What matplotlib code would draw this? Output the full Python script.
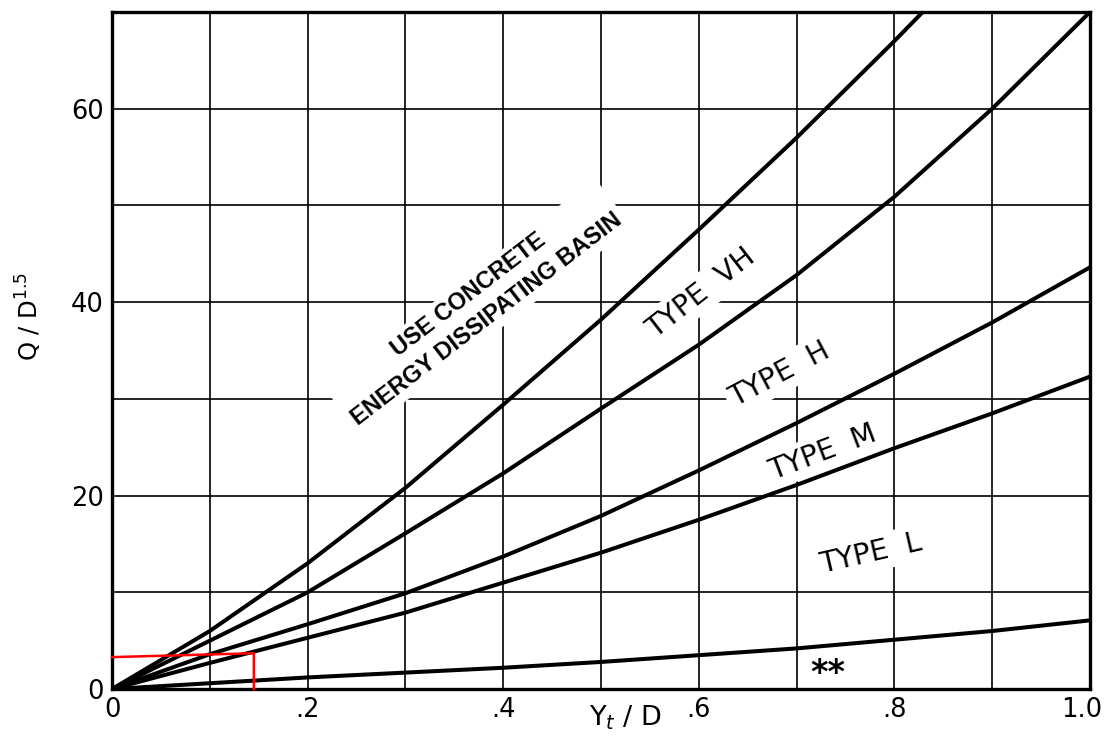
import matplotlib
matplotlib.use("Agg")
import matplotlib.pyplot as plt
import matplotlib.transforms as mtransforms
from matplotlib.ticker import MultipleLocator

# values (x = Yt/D, y = Q/D^1.5)
x_vh_top = [0, 0.1, 0.2, 0.3, 0.4, 0.5, 0.6, 0.7, 0.8, 0.829]
y_vh_top = [0, 6.0, 13.0, 20.8, 29.4, 38.2, 47.5, 57.0, 67.0, 70]

x_std = [0, 0.1, 0.2, 0.3, 0.4, 0.5, 0.6, 0.7, 0.8, 0.9, 1.0]
y_vh_h = [0, 5.0, 10.0, 16.1, 22.3, 29.0, 35.6, 42.8, 50.9, 60.0, 70.0]
y_h_m = [0, 3.6, 6.7, 9.9, 13.7, 17.9, 22.6, 27.5, 32.6, 37.9, 43.6]
y_m_l = [0, 2.7, 5.3, 7.9, 11.0, 14.1, 17.5, 21.1, 24.9, 28.5, 32.3]
y_l_low = [0, 0.6, 1.2, 1.7, 2.2, 2.8, 3.5, 4.2, 5.1, 6.0, 7.1]

# red box in the lower left corner
red_x = [0, 0.145, 0.145]
red_y = [3.3, 3.7, 0]

x_ticks = [0, 0.2, 0.4, 0.6, 0.8, 1.0]
x_tick_labels = ["0", ".2", ".4", ".6", ".8", "1.0"]
y_ticks = [0, 20, 40, 60]
y_tick_labels = ["0", "20", "40", "60"]

fig = plt.figure(figsize=(11.07, 7.47), dpi=100)
ax = fig.add_axes([0.1012, 0.0776, 0.8834, 0.9063])

ax.set_xlim(0, 1.0)
ax.set_ylim(0, 70)

ax.xaxis.set_minor_locator(MultipleLocator(0.1))
ax.yaxis.set_minor_locator(MultipleLocator(10))
ax.set_xticks(x_ticks)
ax.set_xticklabels(x_tick_labels)
ax.set_yticks(y_ticks)
ax.set_yticklabels(y_tick_labels)
ax.tick_params(which="both", length=0, labelsize=18.5)
ax.tick_params(axis="x", pad=6)
ax.tick_params(axis="y", pad=6)

# last x label sits right on the figure edge, nudge it in a bit
last = ax.get_xticklabels()[-1]
last.set_transform(last.get_transform() +
                   mtransforms.ScaledTranslation(-6 / 72, 0, fig.dpi_scale_trans))

ax.set_axisbelow(True)
ax.grid(which="both", color="black", linewidth=1.2)
for s in ax.spines.values():
    s.set_linewidth(2.4)

lw = 2.9
ax.plot(x_vh_top, y_vh_top, color="black", lw=lw, zorder=3)
ax.plot(x_std, y_vh_h, color="black", lw=lw, zorder=3)
ax.plot(x_std, y_h_m, color="black", lw=lw, zorder=3)
ax.plot(x_std, y_m_l, color="black", lw=lw, zorder=3)
ax.plot(x_std, y_l_low, color="black", lw=lw, zorder=3)

ax.plot(red_x, red_y, color="red", lw=1.8, zorder=4, clip_on=False)

white = dict(facecolor="white", edgecolor="none", pad=3)

ax.text(0.374, 39.5, "USE CONCRETE\nENERGY DISSIPATING BASIN", rotation=37.5,
        ha="center", va="center", multialignment="center", linespacing=1.4,
        fontsize=17, fontweight="bold", family="Liberation Sans",
        rotation_mode="anchor", bbox=white, zorder=2)

ax.text(0.602, 40.9, "TYPE  VH", rotation=37.8, ha="center", va="center",
        rotation_mode="anchor", fontsize=20.5, bbox=white, zorder=2)
ax.text(0.683, 32.5, "TYPE  H", rotation=27.8, ha="center", va="center",
        rotation_mode="anchor", fontsize=20.5, bbox=white, zorder=2)
ax.text(0.727, 24.5, "TYPE  M", rotation=20.8, ha="center", va="center",
        rotation_mode="anchor", fontsize=20.5, bbox=white, zorder=2)
ax.text(0.776, 14.0, "TYPE  L", rotation=12.9, ha="center", va="center",
        rotation_mode="anchor", fontsize=20.5, bbox=white, zorder=2)
ax.text(0.732, 0.6, "**", ha="center", va="baseline", fontsize=24,
        fontweight="bold", zorder=2)

ax.set_xlabel("Y$_t$ / D", fontsize=19.5)
ax.xaxis.set_label_coords(0.525, -0.022)
ax.set_ylabel("Q / D$^{1.5}$", fontsize=17.5)
ax.yaxis.set_label_coords(-0.07, 0.55)

fig.savefig("out.png", dpi=100)
